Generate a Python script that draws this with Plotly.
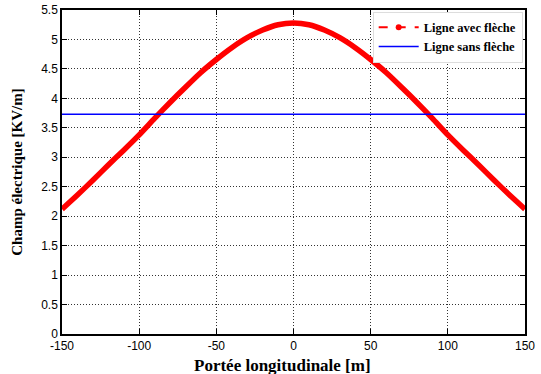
import plotly.graph_objects as go

x_vals = [-150, -140, -130, -120, -110, -100, -90, -80, -70, -60, -50, -40, -30, -20, -10,
          0, 10, 20, 30, 40, 50, 60, 70, 80, 90, 100, 110, 120, 130, 140, 150]
avec_fleche = [2.12, 2.36, 2.61, 2.87, 3.12, 3.38, 3.66, 3.93, 4.19, 4.44, 4.66, 4.86, 5.03, 5.16, 5.25,
               5.28, 5.25, 5.16, 5.03, 4.86, 4.66, 4.44, 4.19, 3.93, 3.66, 3.38, 3.12, 2.87, 2.61, 2.36, 2.12]
sans_fleche_value = 3.73
sans_fleche = [sans_fleche_value] * len(x_vals)

x_ticks = [-150, -100, -50, 0, 50, 100, 150]
y_ticks = [0, 0.5, 1, 1.5, 2, 2.5, 3, 3.5, 4, 4.5, 5, 5.5]

fig = go.Figure()
fig.add_trace(go.Scatter(x=x_vals, y=avec_fleche, mode="lines",
                         line=dict(color="#ff0000", width=5.5, shape="spline", smoothing=0.6),
                         showlegend=False, hoverinfo="skip"))
fig.add_trace(go.Scatter(x=[None], y=[None], mode="lines+markers", name="<b>Ligne avec flèche</b>",
                         line=dict(color="#ff0000", width=2, dash="dash"), marker=dict(color="#ff0000", size=6)))
fig.add_trace(go.Scatter(x=x_vals, y=sans_fleche, mode="lines", name="<b>Ligne sans flèche</b>",
                         line=dict(color="#0000ff", width=1.5), hoverinfo="skip"))

axis_common = dict(showline=True, linecolor="black", linewidth=1.5, mirror="ticks", ticks="inside", ticklen=5,
                   tickcolor="black", showgrid=True, gridcolor="#333333", griddash="1px,2px", gridwidth=1,
                   zeroline=False, automargin=False,
                   tickfont=dict(family="Liberation Sans, Arial", size=12, color="black"))

fig.update_xaxes(range=[-150, 150], tickvals=x_ticks, ticktext=[str(t) for t in x_ticks], **axis_common)
fig.update_yaxes(range=[0, 5.5], tickvals=y_ticks, ticktext=[f"{t:g}" for t in y_ticks],
                 title=dict(text="<b>Champ électrique [KV/m]</b>",
                            font=dict(family="Liberation Serif, Times New Roman", size=15, color="black")),
                 **axis_common)

fig.add_annotation(text="<b>Portée longitudinale [m]</b>", xref="paper", yref="paper",
                   x=0.477, y=-0.098, xanchor="center", yanchor="middle", showarrow=False,
                   font=dict(family="Liberation Serif, Times New Roman", size=17, color="black"))

fig.update_layout(width=541, height=374, margin=dict(l=62, r=16, t=10, b=40),
                  paper_bgcolor="white", plot_bgcolor="white", hovermode=False,
                  legend=dict(x=0.995, y=0.995, xanchor="right", yanchor="top", bgcolor="white",
                              bordercolor="#dddddd", borderwidth=1,
                              font=dict(family="Liberation Serif, Times New Roman", size=12.5, color="black"),
                              tracegroupgap=0, itemwidth=40))

fig.write_html("out.html", config={"displayModeBar": False},
               post_script="document.body.style.margin='0';document.body.style.overflow='hidden';")
